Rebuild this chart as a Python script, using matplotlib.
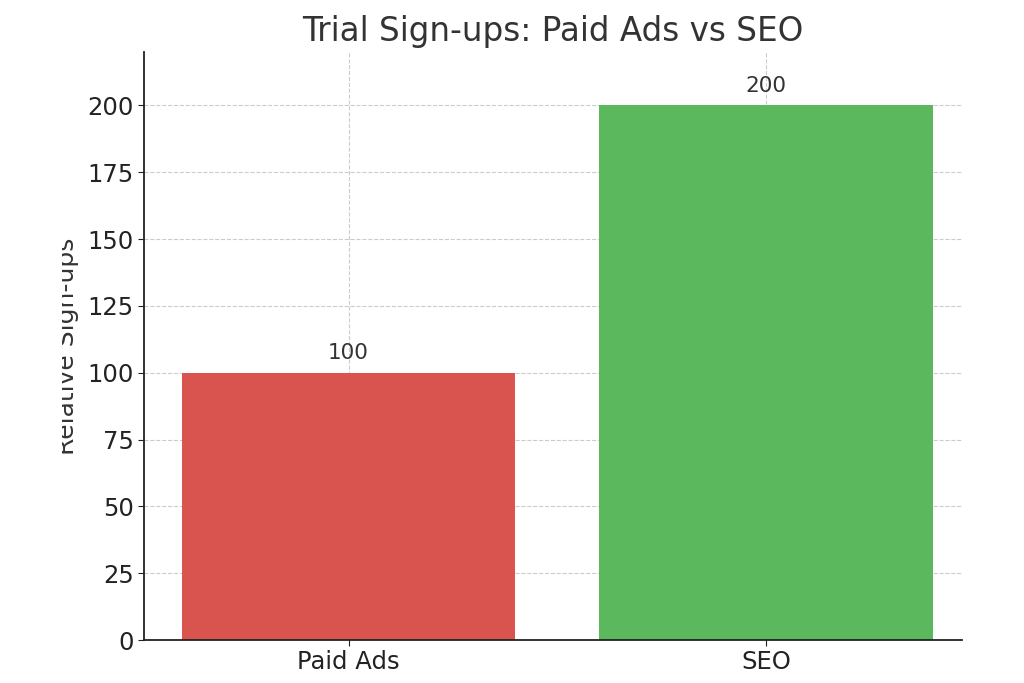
import matplotlib
matplotlib.use("Agg")
import matplotlib.pyplot as plt
from matplotlib.patches import Rectangle

categories = ["Paid Ads", "SEO"]
values = [100, 200]
colors = ["#d9534f", "#5cb85c"]
yticks = [0, 25, 50, 75, 100, 125, 150, 175, 200]

fig = plt.figure(figsize=(10.24, 6.83), dpi=100)
ax = fig.add_axes([144/1024, 1-640/683, (962-144)/1024, (640-52)/683])
bars = ax.bar(categories, values, color=colors, width=0.8, zorder=2)
ax.set_ylim(0, 220)
ax.set_xlim(-0.49, 1.47)
ax.set_yticks(yticks)
ax.grid(True, linestyle="--", color="#cccccc", linewidth=0.8, zorder=0)
for s in ["top", "right"]:
    ax.spines[s].set_visible(False)
for s in ["left", "bottom"]:
    ax.spines[s].set_linewidth(1.3)
    ax.spines[s].set_color("#222222")
ax.tick_params(labelsize=17.5, colors="#222222", length=4)
for b, v in zip(bars, values):
    ax.annotate(str(v), (b.get_x() + b.get_width()/2, v), xytext=(0, 7),
                textcoords="offset points", ha="center", va="bottom",
                fontsize=15.5, color="#333333")
ax.set_title("Trial Sign-ups: Paid Ads vs SEO", fontsize=23.5, color="#333333", pad=8)
ax.set_ylabel("Relative Sign-ups", fontsize=18, color="#333333")
ax.yaxis.set_label_coords(-0.080, 0.50)
fig.patches.append(Rectangle((0, 0), 62/1024, 1, transform=fig.transFigure,
                             facecolor="white", edgecolor="none", zorder=10))
fig.savefig("out.png", dpi=100)
